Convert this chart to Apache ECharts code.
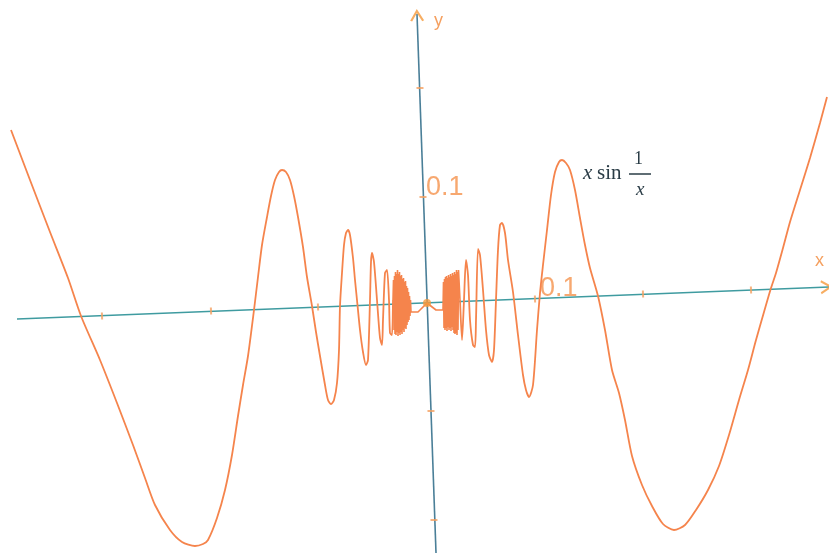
<!DOCTYPE html>
<html>
<head>
<meta charset="utf-8">
<script src="https://cdn.jsdelivr.net/npm/echarts@6/dist/echarts.min.js"></script>
<style>html,body{margin:0;padding:0;background:#fff;}#c{width:829px;height:553px;}</style>
</head>
<body>
<div id="c"></div>
<script>
// Values, in the picture's own plane (x to the right, y downward).
var outerLeft = [[11,130],[30,180],[50,232],[68,278],[81,316],[100,360],[117,403],[133,445],[145,478],[155,505],[170,530],[182,542],[195,546],[203,544],[208,540],[217,518],[225,490],[232,455],[238,416],[243,385],[248,356],[254,310],[258,277],[262,245],[267,217],[271,196],[275,180],[279,172],[282,170],[286,172],[290,180],[294,196],[298,217],[303,247],[307,277],[312,306],[316,332],[320,356],[325,385],[328,400],[331,404],[334,400],[337,383],[339,350],[340,306],[342,273],[344,245],[346,233],[348,230],[350,235],[353,258],[355,280],[357,300],[360,330],[363,352],[366,365],[368,360],[370,300],[371,262],[372,253],[374,262],[377,300],[380,338],[382,345],[383,320],[385,273],[387,270],[389,300],[390,333],[392,335],[393,300]];
var denseLeft = [[393.5,280],[394,330],[394.5,276],[395,334],[395.5,272],[396,335],[396.5,274],[397,332],[397.5,270],[398,336],[398.5,274],[399,333],[399.5,272],[400,335],[400.5,276],[401,332],[401.5,275],[402,334],[402.5,279],[403,330],[403.5,278],[404,332],[404.5,282],[405,328],[405.5,281],[406,329],[406.5,286],[407,325],[407.5,288],[408,322],[408.5,292],[409,320],[409.5,296],[410,316],[410.5,300],[411,312]];
var centre = [[418,312],[427,303],[436,310],[443,310]];
var denseRight = [[443.5,282],[444,328],[444.5,279],[445,330],[445.5,277],[446,328],[446.5,276],[447,331],[447.5,278],[448,327],[448.5,275],[449,330],[449.5,277],[450,328],[450.5,274],[451,331],[451.5,276],[452,327],[452.5,273],[453,330],[453.5,275],[454,333],[454.5,272],[455,334],[455.5,274],[456,333],[456.5,270],[457,335],[457.5,272],[458,330],[458.5,270]];
var outerRight = [[460,300],[462,340],[464,300],[466,260],[468,275],[470,320],[473,345],[475,347],[476,320],[478,249],[480,255],[483,290],[486,330],[489,355],[492,362],[494,350],[496,300],[498,250],[500,225],[502,223],[505,233],[508,260],[513,292],[518,335],[523,375],[526,390],[529,397],[533,385],[537,330],[540,293],[543,265],[547,230],[551,195],[555,172],[559,162],[562,160],[566,163],[570,170],[575,190],[580,218],[585,245],[590,268],[598,296],[605,330],[612,370],[619,393],[625,420],[632,456],[642,485],[652,506],[663,524],[674,530],[685,525],[696,510],[708,490],[719,466],[729,435],[739,400],[748,370],[756,340],[764,312],[771,288],[776,273],[783,248],[790,222],[800,190],[810,158],[820,123],[827,97]];

var xAxisLine = [[17,319],[829,287]];
var yAxisLine = [[436,553],[417,14]];
var xTicks = [[102,316],[211,311],[318,307],[535,299],[643,294],[751,290]];
var yTicks = [[420,88],[423,197],[431,411],[434,520]];
var origin = [[427,303]];
var xArrow = [[826,287]];
var yArrow = [[417,16]];

var middle = [outerLeft[outerLeft.length-1]].concat(denseLeft, centre, denseRight, [outerRight[0]]);

var chart = echarts.init(document.getElementById('c'), null, {renderer:'canvas'});
var orange = '#f5844c';
var chevron = 'path://M0,0L10,5L0,10';
chart.setOption({
  animation:false,
  backgroundColor:'#ffffff',
  grid:{left:0,right:0,top:0,bottom:0},
  xAxis:{type:'value',min:0,max:829,show:false},
  yAxis:{type:'value',min:0,max:553,inverse:true,show:false},
  series:[
    {type:'line',data:xAxisLine,symbol:'none',lineStyle:{color:'#3f9ba0',width:1.6},z:1},
    {type:'line',data:yAxisLine,symbol:'none',lineStyle:{color:'#4a7f98',width:1.6},z:1},
    {type:'scatter',data:xTicks,symbol:'rect',symbolSize:[2,7],symbolRotate:2.3,itemStyle:{color:'#f5a060'},z:2},
    {type:'scatter',data:yTicks,symbol:'rect',symbolSize:[7,2],symbolRotate:2.0,itemStyle:{color:'#f5a060'},z:2},
    {type:'line',data:outerLeft,symbol:'none',smooth:0.25,lineStyle:{color:orange,width:1.8},z:3},
    {type:'line',data:middle,symbol:'none',lineStyle:{color:orange,width:1.6},z:3},
    {type:'line',data:outerRight,symbol:'none',smooth:0.25,lineStyle:{color:orange,width:1.8},z:3},
    {type:'scatter',data:origin,symbol:'circle',symbolSize:8,itemStyle:{color:'#f59a3c'},z:4},
    {type:'scatter',data:xArrow,symbol:chevron,symbolSize:[10,12],symbolRotate:2.3,itemStyle:{color:'none',borderColor:'#f59a3c',borderWidth:2},z:4},
    {type:'scatter',data:yArrow,symbol:chevron,symbolSize:[10,12],symbolRotate:92,itemStyle:{color:'none',borderColor:'#f59a3c',borderWidth:2},z:4}
  ],
  graphic:[
    {type:'text',left:434,top:12,style:{text:'y',fill:'#f5a060',font:'18px "Liberation Sans", Arial, sans-serif'}},
    {type:'text',left:815,top:252,style:{text:'x',fill:'#f5a060',font:'18px "Liberation Sans", Arial, sans-serif'}},
    {type:'text',left:426,top:174,style:{text:'0.1',fill:'#f7a870',font:'27px "Liberation Sans", Arial, sans-serif'}},
    {type:'text',left:540,top:275,style:{text:'0.1',fill:'#f7a870',font:'27px "Liberation Sans", Arial, sans-serif'}},
    {type:'text',left:583,top:163,style:{text:'x',fill:'#2a3c46',font:'italic 21px "Liberation Serif", "DejaVu Serif", serif'}},
    {type:'text',left:597,top:163,style:{text:'sin',fill:'#2a3c46',font:'21px "Liberation Serif", "DejaVu Serif", serif'}},
    {type:'text',left:634,top:150,style:{text:'1',fill:'#2a3c46',font:'18px "Liberation Serif", "DejaVu Serif", serif'}},
    {type:'line',shape:{x1:629,y1:174,x2:651,y2:174},style:{stroke:'#2a3c46',lineWidth:1.5}},
    {type:'text',left:636,top:180,style:{text:'x',fill:'#2a3c46',font:'italic 19px "Liberation Serif", "DejaVu Serif", serif'}}
  ]
});
</script>
</body>
</html>
